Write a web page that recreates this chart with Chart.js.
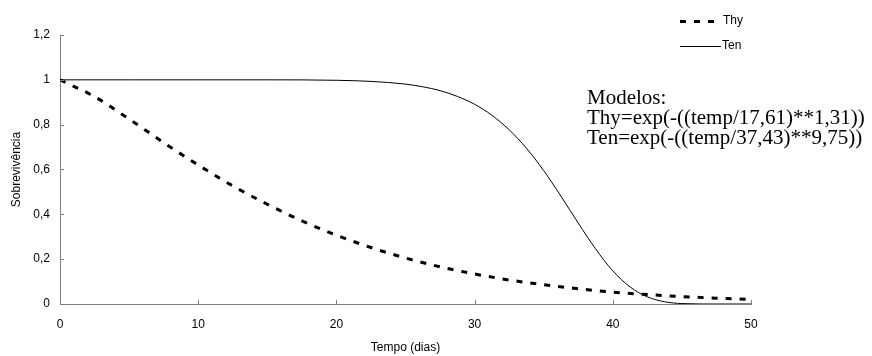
<!DOCTYPE html>
<html lang="pt">
<head>
    <meta charset="UTF-8">
    <title>Sobrevivência</title>
    <script src="https://cdn.jsdelivr.net/npm/chart.js"></script>
    <style>
        body { margin: 0; background: #fff; }
        canvas { display: block; }
    </style>
</head>
<body>
    <canvas id="grafico" width="872" height="356"></canvas>

    <script>
        // dados
        const diasThy = [0, 2.5, 5, 7.5, 10, 12.5, 15, 17.5, 20, 22.5, 25, 27.5, 30, 32.5, 35, 37.5, 40, 42.5, 45, 47.5, 50];
        const sobrevThy = [1.00, 0.925, 0.825, 0.72, 0.62, 0.527, 0.445, 0.371, 0.307, 0.252, 0.205, 0.166, 0.134, 0.107, 0.086, 0.068, 0.053, 0.042, 0.033, 0.026, 0.02];
        const diasTen = [0, 5, 10, 15, 20, 22.5, 25, 26.25, 27.5, 28.75, 30, 31.25, 32.5, 33.75, 35, 36.25, 37.5, 38.75, 40, 41.25, 42.5, 43.75, 45, 47.5, 50];
        const sobrevTen = [1.00, 1.00, 1.00, 1.00, 0.998, 0.993, 0.981, 0.969, 0.952, 0.926, 0.891, 0.842, 0.777, 0.695, 0.595, 0.481, 0.361, 0.246, 0.148, 0.076, 0.032, 0.010, 0.002, 0, 0];
        const xTicks = [0, 10, 20, 30, 40, 50];
        const yTickLabels = ['0', '0,2', '0,4', '0,6', '0,8', '1', '1,2'];
        const series = ['Thy', 'Ten'];
        const modelos = ['Modelos:', 'Thy=exp(-((temp/17,61)**1,31))', 'Ten=exp(-((temp/37,43)**9,75))'];

        const fonte = '"Liberation Sans", Arial, sans-serif';
        const corEixo = '#808080';

        // marcas dos eixos para dentro, legenda e texto dos modelos
        const extras = {
            id: 'extras',
            afterDraw(chart) {
                const c = chart.ctx;
                const x = chart.scales.x, y = chart.scales.y;
                const area = chart.chartArea;
                c.save();
                c.strokeStyle = corEixo;
                c.lineWidth = 1;
                c.beginPath();
                xTicks.forEach(v => {
                    const px = Math.round(x.getPixelForValue(v)) + 0.5;
                    c.moveTo(px, area.bottom);
                    c.lineTo(px, area.bottom - 4);
                });
                yTickLabels.forEach((l, i) => {
                    const py = Math.round(y.getPixelForValue(i * 0.2)) + 0.5;
                    c.moveTo(area.left, py);
                    c.lineTo(area.left + 4, py);
                });
                c.stroke();

                // legenda
                c.strokeStyle = '#000';
                c.lineWidth = 3;
                c.setLineDash([6, 8]);
                c.beginPath();
                c.moveTo(680, 21.5);
                c.lineTo(716, 21.5);
                c.stroke();
                c.setLineDash([]);
                c.lineWidth = 1;
                c.beginPath();
                c.moveTo(680, 46.5);
                c.lineTo(721, 46.5);
                c.stroke();
                c.fillStyle = '#000';
                c.font = '12px ' + fonte;
                c.textBaseline = 'middle';
                c.fillText(series[0], 723, 21);
                c.fillText(series[1], 722, 46);

                c.font = '21px "Liberation Serif", "Times New Roman", serif';
                c.textBaseline = 'alphabetic';
                modelos.forEach((t, i) => c.fillText(t, 587, 104 + i * 20));
                c.restore();
            }
        };

        const ctx = document.getElementById('grafico').getContext('2d');
        const grafico = new Chart(ctx, {
            type: 'line',
            data: {
                datasets: [{
                    label: series[0],
                    data: diasThy.map((d, i) => ({ x: d, y: sobrevThy[i] })),
                    borderColor: '#000',
                    borderWidth: 3,
                    borderDash: [6, 8],
                    pointRadius: 0,
                    cubicInterpolationMode: 'monotone',
                    fill: false
                }, {
                    label: series[1],
                    data: diasTen.map((d, i) => ({ x: d, y: sobrevTen[i] })),
                    borderColor: '#000',
                    borderWidth: 1,
                    pointRadius: 0,
                    cubicInterpolationMode: 'monotone',
                    fill: false
                }]
            },
            options: {
                responsive: false,
                animation: false,
                devicePixelRatio: 1,
                layout: { padding: { top: 35, right: 121, bottom: 0, left: 0 } },
                plugins: {
                    legend: { display: false },
                    tooltip: { enabled: false }
                },
                scales: {
                    x: {
                        type: 'linear',
                        min: 0,
                        max: 50,
                        afterFit: s => { s.height = 52; },
                        afterBuildTicks: s => { s.ticks = xTicks.map(v => ({ value: v })); },
                        grid: { display: true, drawOnChartArea: false, drawTicks: false },
                        border: { color: corEixo, width: 1 },
                        ticks: { color: '#000', padding: 13, font: { family: fonte, size: 12 }, maxRotation: 0 },
                        title: { display: true, text: 'Tempo (dias)', color: '#000', font: { family: fonte, size: 12 }, padding: { top: 0, bottom: 1 } }
                    },
                    y: {
                        min: 0,
                        max: 1.2,
                        afterFit: s => { s.width = 60; },
                        ticks: {
                            stepSize: 0.2,
                            color: '#000',
                            padding: 10,
                            font: { family: fonte, size: 12 },
                            callback: (v, i) => yTickLabels[i]
                        },
                        grid: { display: true, drawOnChartArea: false, drawTicks: false },
                        border: { color: corEixo, width: 1 },
                        title: { display: true, text: 'Sobrevivência', color: '#000', font: { family: fonte, size: 12 }, padding: { top: 9, bottom: 0 } }
                    }
                }
            },
            plugins: [extras]
        });
    </script>
</body>
</html>
